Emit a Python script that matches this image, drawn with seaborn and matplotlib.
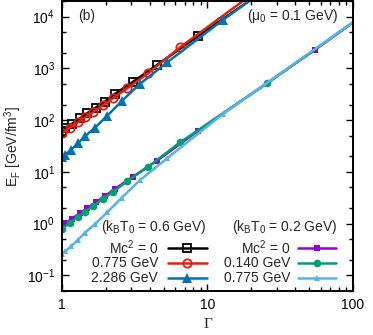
import numpy as np
import pandas as pd
import matplotlib
matplotlib.use("Agg")
import matplotlib.pyplot as plt
import matplotlib.ticker as mticker
from matplotlib.lines import Line2D
import seaborn as sns

# marker grids (Gamma)
gam_sq = [1.0, 1.05, 1.17, 1.33, 1.49, 1.71, 1.97, 2.31, 3.08, 4.5, 8.6, 55.0]
gam_ci = [1.0, 1.13, 1.29, 1.44, 1.63, 1.91, 2.24, 2.8, 3.9, 6.46, 25.7]
gam_tr = [1.0, 1.05, 1.16, 1.29, 1.44, 1.69, 2.04, 2.58, 3.43, 5.27, 12.7]

# kBT0 = 0.6 GeV
e_black = [62, 69, 85, 108, 136, 175, 228, 320, 550, 1160, 4200, 150000]
e_red = [56, 72, 91, 113, 141, 193, 264, 410, 800, 2540, 44000]
e_blue = [19, 21.5, 27, 36, 49, 72, 120, 235, 500, 1300, 8500]
blue_end = (50.0, 141000)

# kBT0 = 0.2 GeV
e_purple = [0.92, 1.01, 1.25, 1.6, 2.0, 2.6, 3.4, 4.7, 8.1, 16.5, 62, 2300]
e_green = [0.80, 1.03, 1.35, 1.69, 2.18, 3.0, 4.1, 6.6, 12.5, 37, 513]
e_lblue = [0.26, 0.29, 0.37, 0.49, 0.67, 0.99, 1.65, 3.2, 6.9, 18.2, 130]
end_100 = {"purple": 7700, "green": 7750, "lblue": 7800}

sns.set_theme(style="ticks")
plt.rcParams["font.family"] = ["Liberation Sans", "DejaVu Sans"]
plt.rcParams["mathtext.default"] = "regular"
plt.rcParams["font.size"] = 10

fig, ax = plt.subplots(figsize=(3.73, 3.35), dpi=100)
fig.subplots_adjust(left=0.1662, right=0.9464, top=0.997, bottom=0.1313)

C_BLACK, C_RED, C_BLUE = "#000000", "#e51e10", "#0072b2"
C_PURPLE, C_GREEN, C_LBLUE = "#9400d3", "#009e73", "#56b4e9"

styles = {
    "black": dict(color=C_BLACK, marker="s", ms=5.5, mfc="none", mec=C_BLACK, mew=1.3),
    "red": dict(color=C_RED, marker="o", ms=6, mfc="none", mec=C_RED, mew=1.3),
    "blue": dict(color=C_BLUE, marker="^", ms=7, mfc=C_BLUE, mec=C_BLUE, mew=0),
    "purple": dict(color=C_PURPLE, marker="s", ms=5, mfc=C_PURPLE, mec=C_PURPLE, mew=0),
    "green": dict(color=C_GREEN, marker="o", ms=5.5, mfc=C_GREEN, mec=C_GREEN, mew=0),
    "lblue": dict(color=C_LBLUE, marker="^", ms=4.5, mfc=C_LBLUE, mec=C_LBLUE, mew=0),
}


def draw(gam, e, key, extra=None):
    g = list(gam)
    v = list(e)
    n = len(g)
    if extra is not None:
        g.append(extra[0])
        v.append(extra[1])
    df = pd.DataFrame({"g": g, "e": v})
    sns.lineplot(data=df, x="g", y="e", ax=ax, lw=1.8, markevery=list(range(n)),
                 **styles[key])


# lower group first
draw(gam_sq, e_purple, "purple", (100.0, end_100["purple"]))
draw(gam_ci, e_green, "green", (100.0, end_100["green"]))
draw(gam_tr, e_lblue, "lblue", (100.0, end_100["lblue"]))
draw(gam_sq, e_black, "black")
draw(gam_ci, e_red, "red")
draw(gam_tr, e_blue, "blue", blue_end)

ax.set_xscale("log")
ax.set_yscale("log")
ax.set_xlim(1, 100)
ax.set_ylim(0.05, 2e4)

ax.xaxis.set_major_locator(mticker.FixedLocator([1, 10, 100]))
ax.xaxis.set_major_formatter(mticker.FixedFormatter(["1", "10", "100"]))
ax.xaxis.set_minor_locator(mticker.LogLocator(base=10, subs=np.arange(2, 10)))
ax.xaxis.set_minor_formatter(mticker.NullFormatter())
ax.yaxis.set_major_locator(mticker.LogLocator(base=10, numticks=12))
ax.yaxis.set_minor_locator(mticker.LogLocator(base=10, subs=(2.0, 5.0), numticks=12))
ax.yaxis.set_minor_formatter(mticker.NullFormatter())

ax.tick_params(which="both", direction="in", top=True, right=True, width=1.0,
               colors="black", labelsize=10, pad=5)
ax.tick_params(which="major", length=5)
ax.tick_params(which="minor", length=3)
for s in ax.spines.values():
    s.set_linewidth(1.4)
    s.set_color("black")

ax.set_xlabel("Γ", family=["Liberation Serif", "DejaVu Serif"], fontsize=11, labelpad=4)
ax.set_ylabel("E$_F$ [GeV/fm$^3$]", fontsize=10, labelpad=2)

tr = ax.transAxes
ax.text(0.055, 0.948, "(b)", transform=tr, ha="left", va="center")
ax.text(0.948, 0.948, "(μ$_0$ = 0.1 GeV)", transform=tr, ha="right", va="center")

# gnuplot-like keys
rows_y = [0.148, 0.0966, 0.0448]
ax.text(0.498, 0.221, "(k$_B$T$_0$ = 0.6 GeV)", transform=tr, ha="right", va="center")
ax.text(0.945, 0.221, "(k$_B$T$_0$ = 0.2 GeV)", transform=tr, ha="right", va="center")
left_labels = ["Mc$^2$ = 0", "0.775 GeV", "2.286 GeV"]
right_labels = ["Mc$^2$ = 0", "0.140 GeV", "0.775 GeV"]
for y, lab, key in zip(rows_y, left_labels, ["black", "red", "blue"]):
    ax.text(0.330, y, lab, transform=tr, ha="right", va="center")
    st = styles[key]
    ax.add_line(Line2D([0.364, 0.498], [y, y], transform=tr, color=st["color"], lw=1.8))
    ax.add_line(Line2D([0.431], [y], transform=tr, ls="none", marker=st["marker"], ms=st["ms"],
                       mfc=st["mfc"], mec=st["mec"], mew=st["mew"]))
for y, lab, key in zip(rows_y, right_labels, ["purple", "green", "lblue"]):
    ax.text(0.784, y, lab, transform=tr, ha="right", va="center")
    st = styles[key]
    ax.add_line(Line2D([0.811, 0.942], [y, y], transform=tr, color=st["color"], lw=1.8))
    ax.add_line(Line2D([0.876], [y], transform=tr, ls="none", marker=st["marker"], ms=st["ms"],
                       mfc=st["mfc"], mec=st["mec"], mew=st["mew"]))

fig.savefig("out.png", dpi=100)
